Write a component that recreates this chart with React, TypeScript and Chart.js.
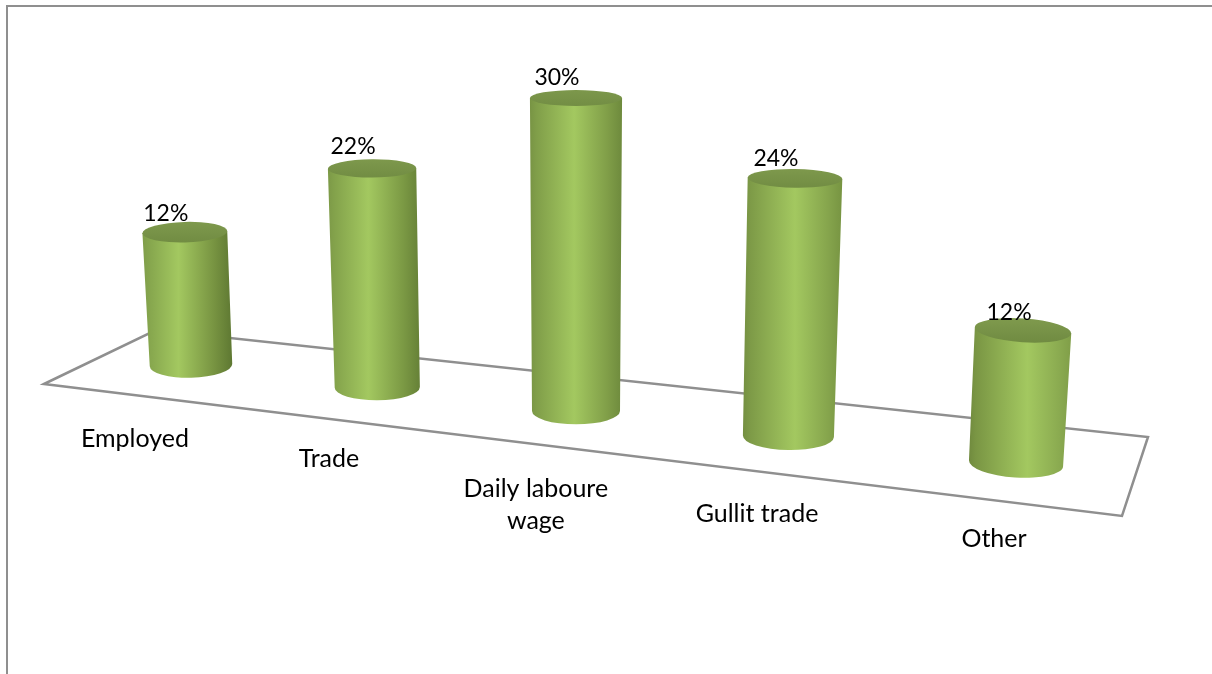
import React, { useEffect, useRef } from "react";
import { Chart, registerables } from "chart.js";

Chart.register(...registerables);

const categories = ["Employed", "Trade", "Daily laboure wage", "Gullit trade", "Other"];
const shares = [12, 22, 30, 24, 12];

const VALUE_FONT = '23px Lato, "Open Sans", sans-serif';
const CATEGORY_FONT = '25px Lato, "Open Sans", sans-serif';
const LINE_COLOR = "#8f8f8f";

// Camera model of the 3D view: column spacing, foreshortening and lean.
const PERSPECTIVE_P = 1026.7;
const PERSPECTIVE_Q = -1 / 6;
const CENTER_X = 576;
const CENTER_Y = 411;
const FLOOR_SLOPE = 0.119;
const HEIGHT_FACTOR = [1.0625, 0.954, 1, 1.03, 1.0625];

// Per-column label placement relative to the projected column.
const VALUE_DX = [-19, -19, -19, -19, -14];
const VALUE_DY = [-19, -22, -20, -20, -18];
const CATEGORY_DY = [74, 72, 78, 78, 76];

type Cylinder = { bx: number; by: number; tx: number; ty: number; brx: number; trx: number };
type Rgb = [number, number, number];

function project(chart: any, bar: any, i: number): Cylinder {
  const { left, width } = chart.chartArea;
  const t = (bar.x - left) / width - 0.5;
  const depth = 1 / (1 + PERSPECTIVE_Q * t);
  const bx = CENTER_X + PERSPECTIVE_P * t * depth;
  const by = CENTER_Y + (bx - CENTER_X) * FLOOR_SLOPE;
  const h = (bar.base - bar.y) * HEIGHT_FACTOR[i];
  const tx = bx + (bx - CENTER_X) * h * 1.2e-4;
  const ty = by - h;
  const brx = 44 * depth;
  const trx = brx + 0.5 + h * 0.005;
  return { bx, by, tx, ty, brx, trx };
}

const flatness = (y: number) => 6.3 + 0.017 * y;

// Ellipses turn slowly away from the view axis, faster on the right-hand side.
function tilt(x: number) {
  const d = x - CENTER_X;
  const degrees = d * Math.abs(d) * (d > 0 ? 1.9e-5 : 1e-5);
  return (degrees * Math.PI) / 180;
}

function mix(a: Rgb, b: Rgb, f: number) {
  const c = a.map((v, n) => Math.round(v + (b[n] - v) * f));
  return `rgb(${c[0]},${c[1]},${c[2]})`;
}

function drawCylinder(ctx: CanvasRenderingContext2D, c: Cylinder) {
  const baseTilt = tilt(c.bx);
  const topTilt = tilt(c.tx);
  const left = Math.min(c.bx - c.brx, c.tx - c.trx);
  const right = Math.max(c.bx + c.brx, c.tx + c.trx);

  // The light follows the column's place in the row.
  const s = Math.max(-1, Math.min(1, (c.bx - CENTER_X) / 440));
  const f = (s + 1) / 2;
  const shine = 0.48 + s * 0.09;
  const side = ctx.createLinearGradient(left, 0, right, 0);
  side.addColorStop(0, mix([128, 158, 74], [112, 138, 62], f));
  side.addColorStop(0.07, mix([134, 166, 78], [122, 150, 68], f));
  side.addColorStop(shine, "#a3c860");
  side.addColorStop((shine + 1) / 2 + 0.1, mix([118, 146, 64], [138, 170, 80], f));
  side.addColorStop(1, mix([92, 118, 49], [128, 158, 72], f));

  ctx.beginPath();
  ctx.ellipse(c.bx, c.by, c.brx, flatness(c.by), baseTilt, 0, Math.PI);
  ctx.lineTo(c.tx - c.trx * Math.cos(topTilt), c.ty - c.trx * Math.sin(topTilt));
  ctx.lineTo(c.tx + c.trx * Math.cos(topTilt), c.ty + c.trx * Math.sin(topTilt));
  ctx.closePath();
  ctx.fillStyle = side;
  ctx.fill();

  const cap = ctx.createLinearGradient(0, c.ty - 12, 0, c.ty + 12);
  cap.addColorStop(0, "#7f9a4d");
  cap.addColorStop(1, "#708b42");
  ctx.beginPath();
  ctx.ellipse(c.tx, c.ty, c.trx, flatness(c.ty), topTilt, 0, Math.PI * 2);
  ctx.fillStyle = cap;
  ctx.fill();
}

const sceneryPlugin = {
  id: "scenery",
  beforeDatasetsDraw(chart: any) {
    const { ctx, width, height } = chart;
    ctx.save();
    // outer frame, open on the right and bottom edges
    ctx.strokeStyle = LINE_COLOR;
    ctx.lineWidth = 2;
    ctx.beginPath();
    ctx.moveTo(7, height);
    ctx.lineTo(7, 6);
    ctx.lineTo(width, 6);
    ctx.stroke();
    // floor of the 3D box
    ctx.lineWidth = 2.5;
    ctx.beginPath();
    ctx.moveTo(44, 384);
    ctx.lineTo(156, 330);
    ctx.lineTo(1148, 437);
    ctx.lineTo(1122, 516);
    ctx.closePath();
    ctx.stroke();
    ctx.restore();
  },
  beforeDatasetDraw(chart: any, args: any) {
    const { ctx } = chart;
    const meta = chart.getDatasetMeta(args.index);
    ctx.save();
    meta.data.forEach((bar: any, i: number) => drawCylinder(ctx, project(chart, bar, i)));
    ctx.restore();
    return false;
  },
  afterDatasetsDraw(chart: any) {
    const { ctx } = chart;
    const meta = chart.getDatasetMeta(0);
    ctx.save();
    ctx.fillStyle = "#000";
    ctx.textAlign = "center";
    ctx.textBaseline = "middle";
    meta.data.forEach((bar: any, i: number) => {
      const c = project(chart, bar, i);
      ctx.font = VALUE_FONT;
      ctx.fillText(`${shares[i]}%`, c.tx + VALUE_DX[i], c.ty + VALUE_DY[i]);

      ctx.font = CATEGORY_FONT;
      const lx = c.bx - 56 + (c.bx - 191) * 0.0412;
      const ly = c.by + CATEGORY_DY[i];
      const words = categories[i].split(" ");
      const lines = categories[i].length > 12
        ? [words.slice(0, -1).join(" "), words[words.length - 1]]
        : [categories[i]];
      lines.forEach((line, n) => ctx.fillText(line, lx, ly + n * 32));
    });
    ctx.restore();
  },
};

export default function App() {
  const canvasRef = useRef<HTMLCanvasElement>(null);

  useEffect(() => {
    const chart = new Chart(canvasRef.current as HTMLCanvasElement, {
      type: "bar",
      data: {
        labels: categories,
        datasets: [{ data: shares, backgroundColor: "#9bbb59" }],
      },
      plugins: [sceneryPlugin],
      options: {
        animation: false,
        responsive: false,
        layout: { padding: { top: 98, bottom: 263, left: 45, right: 63 } },
        plugins: { legend: { display: false }, tooltip: { enabled: false } },
        scales: {
          x: { display: false },
          y: { display: false, min: 0, max: 30 },
        },
      },
    });
    return () => chart.destroy();
  }, []);

  return (
    <div style={{ position: "absolute", left: 0, top: 0, width: 1212, height: 674, background: "#fff" }}>
      <canvas ref={canvasRef} width={1212} height={674} style={{ display: "block" }} />
    </div>
  );
}
